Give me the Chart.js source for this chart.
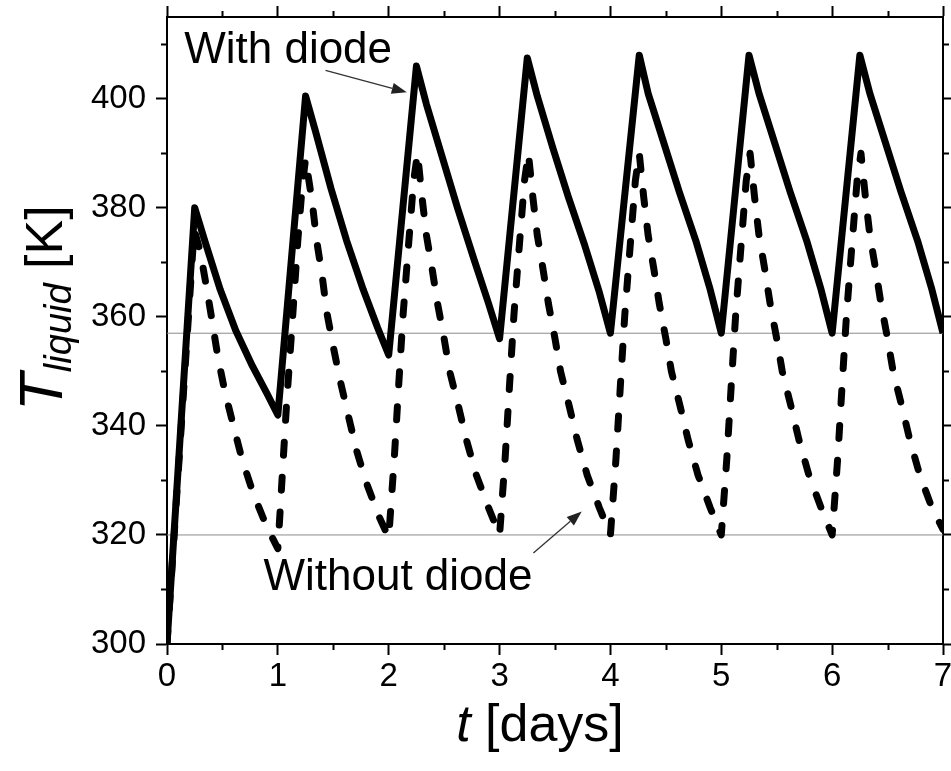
<!DOCTYPE html>
<html>
<head>
<meta charset="utf-8">
<title>Liquid temperature over a week</title>
<script src="https://cdn.jsdelivr.net/npm/chart.js@4.4.1/dist/chart.umd.min.js"></script>
<style>
  html, body { margin: 0; padding: 0; background: #fff; }
  #tempChart { display: block; }
</style>
</head>
<body>
<canvas id="tempChart" width="951" height="771"></canvas>
<script>
// Liquid temperature [K] against time [days], with the diode (solid line)
const diodeDays = [0, 0.25, 0.34, 0.48, 0.62, 0.77, 0.9, 1,
  1.25, 1.34, 1.48, 1.62, 1.77, 1.9, 2,
  2.25, 2.34, 2.48, 2.62, 2.77, 2.9, 3,
  3.25, 3.34, 3.48, 3.62, 3.77, 3.9, 4,
  4.26, 4.34, 4.48, 4.62, 4.77, 4.9, 5,
  5.25, 5.34, 5.48, 5.62, 5.77, 5.9, 6,
  6.25, 6.34, 6.48, 6.62, 6.77, 6.9, 7];
const diodeTemp = [300, 380, 374, 365, 357.5, 351, 346, 342,
  400.5, 394, 383.5, 374, 365, 358, 353,
  406, 399, 389.5, 380, 370.5, 362.5, 356,
  407.5, 400.5, 391, 382, 373, 364.5, 357,
  408, 401, 392, 383, 374, 365, 357,
  408, 401, 392, 383, 374, 365, 357,
  408, 401, 392, 383, 374, 365, 357];

// Same liquid without the diode (dashed line)
const noDiodeDays = [0, 0.245, 0.3, 0.36, 0.405, 0.46, 0.525, 0.6, 0.675, 0.78, 0.9, 1,
  1.04, 1.08, 1.13, 1.18, 1.22, 1.25, 1.31, 1.35, 1.4, 1.44, 1.5, 1.56, 1.64, 1.71, 1.8, 1.91, 2,
  2.05, 2.09, 2.13, 2.18, 2.225, 2.26, 2.3, 2.34, 2.39, 2.44, 2.5, 2.55, 2.63, 2.7, 2.79, 2.9, 3,
  3.05, 3.09, 3.13, 3.18, 3.225, 3.26, 3.3, 3.34, 3.39, 3.44, 3.5, 3.55, 3.63, 3.7, 3.79, 3.9, 4,
  4.05, 4.09, 4.13, 4.18, 4.225, 4.26, 4.3, 4.34, 4.39, 4.44, 4.5, 4.55, 4.63, 4.7, 4.79, 4.9, 5,
  5.05, 5.09, 5.13, 5.18, 5.225, 5.26, 5.3, 5.34, 5.39, 5.44, 5.5, 5.55, 5.63, 5.7, 5.79, 5.9, 6,
  6.05, 6.09, 6.13, 6.18, 6.225, 6.26, 6.3, 6.34, 6.39, 6.44, 6.5, 6.55, 6.63, 6.7, 6.79, 6.9, 7];
const noDiodeTemp = [300, 376, 372, 365, 359.5, 352.5, 346, 340, 334, 327.5, 321.5, 317.5,
  331, 344.5, 359, 374, 384, 389, 381, 374, 367.5, 361, 354.5, 348.5, 341.5, 335.5, 329.5, 323.5, 319.5,
  334, 347.5, 360.5, 373.5, 385, 390, 382, 375, 369, 362.5, 356, 350, 343.5, 337.5, 331, 325, 320,
  334, 347.5, 360.5, 373.5, 385, 390, 382, 375, 369, 362.5, 356, 350, 343.5, 337.5, 331, 325, 320,
  334, 347.5, 360.5, 373.5, 385, 390, 382, 375, 369, 362.5, 356, 350, 343.5, 337.5, 331, 325, 320,
  334, 347.5, 360.5, 373.5, 385, 390, 382, 375, 369, 362.5, 356, 350, 343.5, 337.5, 331, 325, 320,
  334, 347.5, 360.5, 373.5, 385, 390, 382, 375, 369, 362.5, 356, 350, 343.5, 337.5, 331, 325, 321];

// Thin horizontal guides [K]
const guideLevels = [357, 320];

// Axis ticks
const xTicks = [0, 1, 2, 3, 4, 5, 6, 7];
const xMinorTicks = [0.5, 1.5, 2.5, 3.5, 4.5, 5.5, 6.5];
const yTicks = [300, 320, 340, 360, 380, 400];
const yMinorTicks = [310, 330, 350, 370, 390, 410];

const FONT = "'Liberation Sans', Arial, sans-serif";

function toPoints(xs, ys) {
  return xs.map((x, i) => ({ x: x, y: ys[i] }));
}

// fixed box sizes so the plot frame sits where we want it
function fixSize(w, h) {
  return function(scale) {
    if (w !== null) scale.width = w;
    if (h !== null) scale.height = h;
    scale.paddingLeft = 0;
    scale.paddingRight = 0;
    scale.paddingTop = 0;
    scale.paddingBottom = 0;
  };
}

function setTicks(values) {
  return function(scale) {
    scale.ticks = values.map(v => ({ value: v }));
  };
}

function frameAxis(extra) {
  const base = {
    type: 'linear',
    border: { display: true, color: '#000', width: 2 },
    grid: { drawOnChartArea: false, drawTicks: true, tickLength: 11, tickColor: '#000', tickWidth: 2 }
  };
  return Object.assign(base, extra);
}

function drawArrow(ctx, x1, y1, x2, y2) {
  const ang = Math.atan2(y2 - y1, x2 - x1);
  const headLen = 15, headHalf = 5.5;
  const bx = x2 - headLen * Math.cos(ang);
  const by = y2 - headLen * Math.sin(ang);
  ctx.beginPath();
  ctx.moveTo(x1, y1);
  ctx.lineTo(bx, by);
  ctx.stroke();
  ctx.beginPath();
  ctx.moveTo(x2, y2);
  ctx.lineTo(bx + headHalf * Math.sin(ang), by - headHalf * Math.cos(ang));
  ctx.lineTo(bx - headHalf * Math.sin(ang), by + headHalf * Math.cos(ang));
  ctx.closePath();
  ctx.fill();
}

// minor ticks, axis titles and the two curve labels
const figureText = {
  id: 'figureText',
  afterDraw(chart) {
    const ctx = chart.ctx;
    const xs = chart.scales.x, ys = chart.scales.y;
    const area = chart.chartArea;
    ctx.save();

    ctx.strokeStyle = '#000';
    ctx.lineWidth = 2;
    ctx.beginPath();
    xMinorTicks.forEach(v => {
      const px = Math.round(xs.getPixelForValue(v)) + 0.5;
      ctx.moveTo(px, area.bottom); ctx.lineTo(px, area.bottom + 6);
      ctx.moveTo(px, area.top); ctx.lineTo(px, area.top - 6);
    });
    yMinorTicks.forEach(v => {
      const py = Math.round(ys.getPixelForValue(v)) + 0.5;
      ctx.moveTo(area.left, py); ctx.lineTo(area.left - 6, py);
      ctx.moveTo(area.right, py); ctx.lineTo(area.right + 6, py);
    });
    ctx.stroke();

    // curve labels with their arrows
    ctx.fillStyle = '#000';
    ctx.font = '44px ' + FONT;
    ctx.textAlign = 'left';
    ctx.textBaseline = 'alphabetic';
    ctx.fillText('With diode', xs.getPixelForValue(0.155), ys.getPixelForValue(406.5));
    ctx.fillText('Without diode', xs.getPixelForValue(0.87), ys.getPixelForValue(309.9));

    ctx.strokeStyle = '#333';
    ctx.fillStyle = '#222';
    ctx.lineWidth = 1.3;
    drawArrow(ctx, xs.getPixelForValue(1.43), ys.getPixelForValue(405.2),
      xs.getPixelForValue(2.163), ys.getPixelForValue(401.2));
    drawArrow(ctx, xs.getPixelForValue(3.305), ys.getPixelForValue(316.7),
      xs.getPixelForValue(3.741), ys.getPixelForValue(324.3));

    // x title: t [days]
    ctx.fillStyle = '#000';
    ctx.font = 'italic 52px ' + FONT;
    const tW = ctx.measureText('t').width;
    ctx.font = '52px ' + FONT;
    const restW = ctx.measureText(' [days]').width;
    const x0 = (area.left + area.right) / 2 - 15 - (tW + restW) / 2;
    const base = area.bottom + 97;
    ctx.font = 'italic 52px ' + FONT;
    ctx.fillText('t', x0, base);
    ctx.font = '52px ' + FONT;
    ctx.fillText(' [days]', x0 + tW, base);

    // y title: T_liquid [K], rotated
    ctx.translate(area.left - 105, area.top + 394);
    ctx.rotate(-Math.PI / 2);
    ctx.font = 'italic 62px ' + FONT;
    ctx.fillText('T', 0, 0);
    let pos = ctx.measureText('T').width + 1;
    ctx.font = 'italic 38px ' + FONT;
    ctx.fillText('liquid', pos, 9);
    pos += ctx.measureText('liquid').width;
    ctx.font = '52px ' + FONT;
    ctx.fillText(' [K]', pos, 0);

    ctx.restore();
  }
};

const datasets = guideLevels.map(level => ({
  data: toPoints([0, 7], [level, level]),
  borderColor: '#8c8c8c',
  borderWidth: 1,
  pointRadius: 0,
  order: 3
}));
datasets.push({
  label: 'Without diode',
  data: toPoints(noDiodeDays, noDiodeTemp),
  borderColor: '#000',
  borderWidth: 7,
  borderDash: [13, 22],
  borderCapStyle: 'round',
  borderJoinStyle: 'round',
  pointRadius: 0,
  order: 2
});
datasets.push({
  label: 'With diode',
  data: toPoints(diodeDays, diodeTemp),
  borderColor: '#000',
  borderWidth: 7,
  borderJoinStyle: 'round',
  pointRadius: 0,
  order: 1
});

const tempChart = new Chart(document.getElementById('tempChart').getContext('2d'), {
  type: 'line',
  data: { datasets: datasets },
  options: {
    responsive: false,
    maintainAspectRatio: false,
    animation: false,
    devicePixelRatio: 1,
    layout: { padding: 0 },
    elements: { line: { tension: 0 } },
    plugins: { legend: { display: false }, tooltip: { enabled: false } },
    scales: {
      x: frameAxis({
        position: 'bottom', min: 0, max: 7,
        afterBuildTicks: setTicks(xTicks),
        afterFit: fixSize(null, 127),
        ticks: { color: '#000', padding: 2, maxRotation: 0, autoSkip: false, font: { family: FONT, size: 33 } }
      }),
      x2: frameAxis({
        position: 'top', min: 0, max: 7,
        afterBuildTicks: setTicks(xTicks),
        afterFit: fixSize(null, 17),
        ticks: { display: false }
      }),
      y: frameAxis({
        position: 'left', min: 300, max: 415,
        afterBuildTicks: setTicks(yTicks),
        afterFit: fixSize(167, null),
        ticks: { color: '#000', padding: 10, autoSkip: false, font: { family: FONT, size: 33 } }
      }),
      y2: frameAxis({
        position: 'right', min: 300, max: 415,
        afterBuildTicks: setTicks(yTicks),
        afterFit: fixSize(8, null),
        ticks: { display: false }
      })
    }
  },
  plugins: [figureText]
});
</script>
</body>
</html>
